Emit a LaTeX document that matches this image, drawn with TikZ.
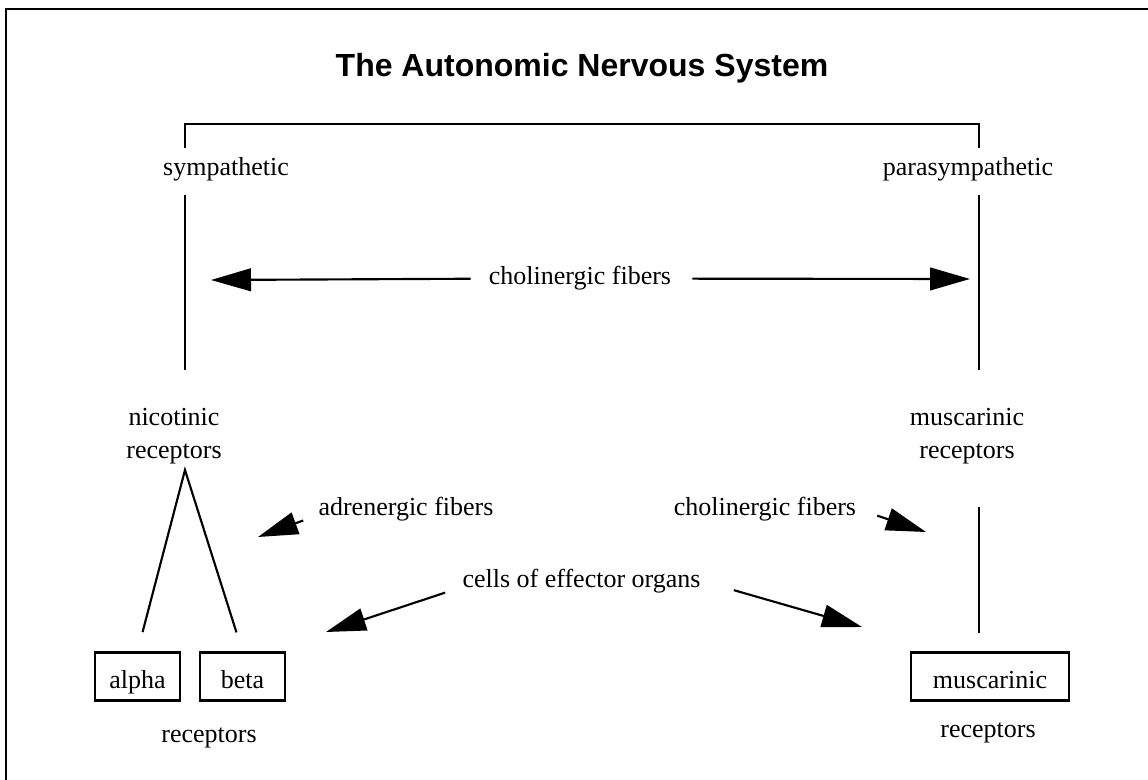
\documentclass[tikz,border=0pt]{standalone}
\usepackage{fontspec}
\setmainfont{Liberation Serif}
\newfontfamily\headfont{Liberation Sans}
\usetikzlibrary{arrows.meta}

\tikzset{
  lbl/.style={font=\fontsize{19.5}{24.75}\selectfont, inner sep=0pt},
  recbox/.style={lbl, draw, line width=1.6pt, minimum height=36pt, text height=17.5pt, text depth=0pt},
  conn/.style={line width=1.6pt},
  fib/.style={line width=1.6pt, -{Triangle[length=30pt,width=17pt]}},
}

\begin{document}
\begin{tikzpicture}[x=0.75pt,y=0.75pt,yscale=-1,xscale=1]
\clip (0,0) rectangle (1148,780);
%frame
\draw [line width=1.8pt] (6,9) rectangle (1160,800) ;

%Title
\node [anchor=base, inner sep=0pt, font=\headfont\bfseries\fontsize{24}{28}\selectfont] (title) at (582,77) {The Autonomic Nervous System};

%Labels
\node [lbl, anchor=base] (symp) at (226,176) {sympathetic};
\node [lbl, anchor=base] (para) at (968,176) {parasympathetic};
\node [lbl, anchor=north, align=center] (nico) at (174,408) {nicotinic\\receptors};
\node [lbl, anchor=north, align=center] (musc) at (967,408) {muscarinic\\receptors};
\node [lbl, anchor=base] (chol) at (580,285) {cholinergic fibers};
\node [lbl, anchor=base] (adren) at (406,515) {adrenergic fibers};
\node [lbl, anchor=base] (chol2) at (765,515) {cholinergic fibers};
\node [lbl, anchor=base] (cells) at (581.5,587) {cells of effector organs};

%Receptor boxes
\node [recbox, minimum width=63.75pt] (alpha) at (137.5,676.5) {alpha};
\node [recbox, minimum width=63.75pt] (beta) at (242.5,676.5) {beta};
\node [recbox, minimum width=118.5pt] (mbox) at (990,676.5) {muscarinic};
\node [lbl, anchor=base] (recl) at (209,742) {receptors};
\node [lbl, anchor=base] (recr) at (988,737) {receptors};

%Bracket and stems
\coordinate (bl) at (185,124);
\coordinate (br) at (979,124);
\coordinate (apex) at (185,470);
\draw [conn, shorten <=7.5pt, shorten >=7.5pt] (bl |- symp.north) -- (bl) -- (br) -- (br |- para.north) ;
\draw [conn, shorten <=10pt, shorten >=28.5pt] (bl |- symp.south) -- (bl |- nico.north) ;
\draw [conn, shorten <=10pt, shorten >=28.5pt] (br |- para.south) -- (br |- musc.north) ;
\draw [conn, shorten <=32.25pt, shorten >=14pt] (br |- musc.south) -- (br |- mbox.north) ;
\draw [conn, shorten <=15pt, shorten >=15pt] (alpha.north) -- (apex) -- (beta.north) ;

%Fiber arrows
\coordinate (tipA) at (211,280);
\coordinate (tipB) at (970,279);
\coordinate (tipC) at (258,537);
\coordinate (tipD) at (926,532);
\coordinate (tipE) at (326,632);
\coordinate (tipF) at (862,627);
\draw [fib, shorten <=13.5pt] (chol.west) -- (tipA) ;
\draw [fib, shorten <=15.75pt] (chol.east) -- (tipB) ;
\draw [fib, shorten <=12pt] (adren.base west) -- (tipC) ;
\draw [fib, shorten <=16.5pt] (chol2.east) -- (tipD) ;
\draw [fib, shorten <=13.5pt] (cells.base west) -- (tipE) ;
\draw [fib, shorten <=25.8pt] (cells.east) -- (tipF) ;

\end{tikzpicture}
\end{document}
